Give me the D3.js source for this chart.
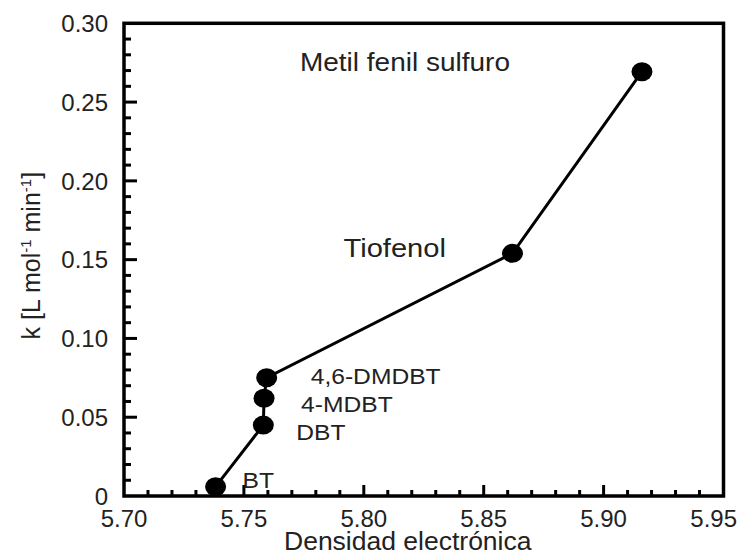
<!DOCTYPE html>
<html>
<head>
<meta charset="utf-8">
<script src="https://cdn.jsdelivr.net/npm/d3@7"></script>
<style>
  body { margin:0; background:white; }
  svg { display:block; font-family:"Liberation Sans", Arial, sans-serif; }
</style>
</head>
<body>
<svg id="graph"></svg>
<script>
//Datos
var compuestos = ["BT", "DBT", "4-MDBT", "4,6-DMDBT", "Tiofenol", "Metil fenil sulfuro"];
var densidad   = [5.7382, 5.7581, 5.7584, 5.7595, 5.8620, 5.9160];
var kValores   = [0.0059, 0.0450, 0.0620, 0.0751, 0.1540, 0.2693];

var xTicks = [5.70, 5.75, 5.80, 5.85, 5.90, 5.95];
var xTickLabels = ["5.70", "5.75", "5.80", "5.85", "5.90", "5.95"];
var yTicks = [0, 0.05, 0.10, 0.15, 0.20, 0.25, 0.30];
var yTickLabels = ["0", "0.05", "0.10", "0.15", "0.20", "0.25", "0.30"];

//Graph settings
var screenSize = { width:741, height:556 };
var margins = { top:23.3, bottom:60, left:124, right:17.5 };

//label offsets from each point (pixels), font size
var labelLayout = [
  {dx:27,   dy:1,  size:22},
  {dx:33,   dy:15, size:22},
  {dx:37,   dy:14, size:22},
  {dx:44,   dy:6,  size:22},
  {dx:-169, dy:4,  size:26},
  {dx:-342, dy:-1, size:25}
];

var points = compuestos.map(function(c, i){
  return {name:c, x:densidad[i], k:kValores[i]};
});

var graphWidth  = screenSize.width - margins.left - margins.right;
var graphHeight = screenSize.height - margins.top - margins.bottom;

var xScale = d3.scaleLinear()
               .domain([5.70, 5.95])
               .range([margins.left, margins.left + graphWidth]);

var yScale = d3.scaleLinear()
               .domain([0, 0.30])
               .range([margins.top + graphHeight, margins.top]);

var svg = d3.select("#graph")
            .attr("width", screenSize.width)
            .attr("height", screenSize.height);

var x0 = xScale.range()[0], x1 = xScale.range()[1];
var yB = yScale.range()[0], yT = yScale.range()[1];

//frame
svg.append("rect")
   .attr("x", x0)
   .attr("y", yT)
   .attr("width", x1 - x0)
   .attr("height", yB - yT)
   .attr("fill", "none")
   .attr("stroke", "black")
   .attr("stroke-width", 3.5);

//ticks every 0.01, longer every 0.05
var xAllTicks = d3.range(1, 25).map(function(i){ return 5.70 + i * 0.01; });
var yAllTicks = d3.range(1, 30).map(function(i){ return i * 0.01; });

var tickGroup = svg.append("g");

tickGroup.selectAll(".xtick")
     .data(xAllTicks)
     .enter()
     .append("line")
     .classed("xtick", true)
     .attr("x1", function(d){ return xScale(d); })
     .attr("x2", function(d){ return xScale(d); })
     .attr("y1", yB)
     .attr("y2", function(d, i){ return (i + 1) % 5 == 0 ? yB - 11 : yB - 6; })
     .style("stroke", "black")
     .style("stroke-width", 3);

tickGroup.selectAll(".ytick")
     .data(yAllTicks)
     .enter()
     .append("line")
     .classed("ytick", true)
     .attr("x1", x0)
     .attr("x2", function(d, i){ return (i + 1) % 5 == 0 ? x0 + 13 : x0 + 7; })
     .attr("y1", function(d){ return yScale(d); })
     .attr("y2", function(d){ return yScale(d); })
     .style("stroke", "black")
     .style("stroke-width", 3);

//tick labels
svg.append("g")
   .selectAll("text")
   .data(xTicks)
   .enter()
   .append("text")
   .attr("x", function(d, i){ return i == xTicks.length - 1 ? screenSize.width - 4 : xScale(d); })
   .attr("y", yB + 31)
   .attr("text-anchor", function(d, i){ return i == xTicks.length - 1 ? "end" : "middle"; })
   .attr("font-size", 24)
   .attr("fill", "#222")
   .text(function(d, i){ return xTickLabels[i]; });

svg.append("g")
   .selectAll("text")
   .data(yTicks)
   .enter()
   .append("text")
   .attr("x", x0 - 16)
   .attr("y", function(d){ return yScale(d); })
   .attr("dy", "0.36em")
   .attr("text-anchor", "end")
   .attr("font-size", 24)
   .attr("fill", "#222")
   .text(function(d, i){ return yTickLabels[i]; });

//axis titles
svg.append("text")
   .attr("x", (x0 + x1) / 2 - 16)
   .attr("y", 550)
   .attr("text-anchor", "middle")
   .attr("font-size", 26.5)
   .attr("fill", "#222")
   .text("Densidad electrónica");

var yTitle = svg.append("text")
   .attr("transform", "translate(40," + ((yB + yT) / 2 - 4) + ") rotate(-90)")
   .attr("text-anchor", "middle")
   .attr("font-size", 25)
   .attr("fill", "#222");
yTitle.append("tspan").text("k [L mol");
yTitle.append("tspan").attr("font-size", 15).attr("dy", -9).text("-1");
yTitle.append("tspan").attr("dy", 9).text(" min");
yTitle.append("tspan").attr("font-size", 15).attr("dy", -9).text("-1");
yTitle.append("tspan").attr("dy", 9).text("]");

//data line
var line = d3.line()
             .x(function(d){ return xScale(d.x); })
             .y(function(d){ return yScale(d.k); });

svg.append("path")
   .datum(points)
   .attr("d", line)
   .attr("fill", "none")
   .attr("stroke", "black")
   .attr("stroke-width", 3);

svg.selectAll(".marker")
   .data(points)
   .enter()
   .append("ellipse")
   .classed("marker", true)
   .attr("cx", function(d){ return xScale(d.x); })
   .attr("cy", function(d){ return yScale(d.k); })
   .attr("rx", 10.5)
   .attr("ry", 9.5)
   .attr("fill", "black");

//labels
svg.selectAll(".etiqueta")
   .data(points)
   .enter()
   .append("text")
   .classed("etiqueta", true)
   .attr("transform", function(d, i){
     var lay = labelLayout[i];
     return "translate(" + (xScale(d.x) + lay.dx) + "," + (yScale(d.k) + lay.dy) + ") scale(1.12,1)";
   })
   .attr("font-size", function(d, i){ return labelLayout[i].size; })
   .attr("fill", "#222")
   .text(function(d){ return d.name; });
</script>
</body>
</html>
